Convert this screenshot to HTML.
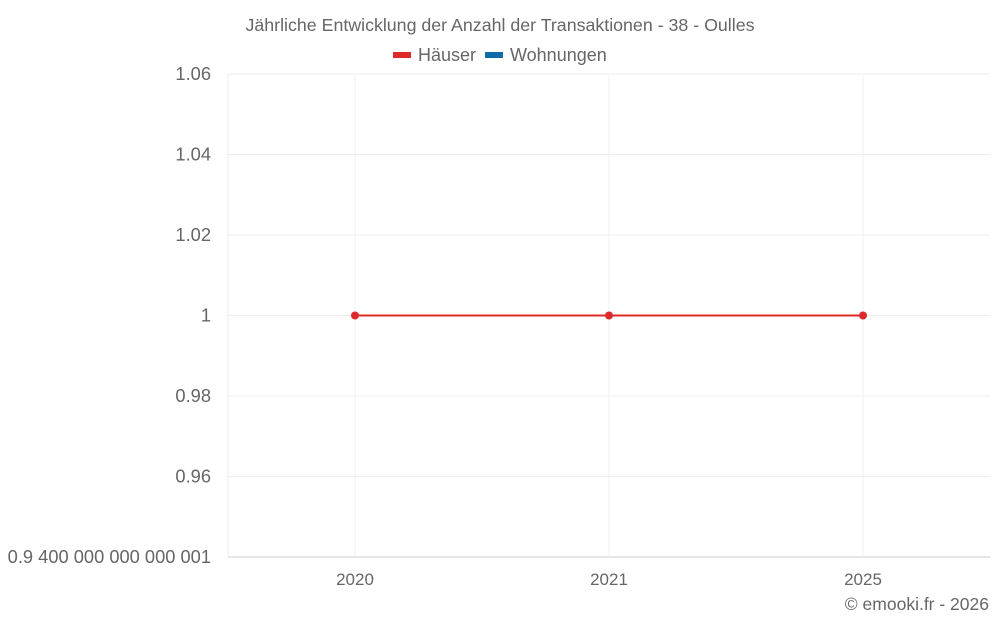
<!DOCTYPE html>
<html><head><meta charset="utf-8"><style>
body{margin:0;background:#fff;font-family:"Liberation Sans",sans-serif}
svg text{font-family:"Liberation Sans",sans-serif;fill:#666}
</style></head><body>
<svg width="1000" height="625">
<text x="500" y="31" text-anchor="middle" font-size="17.8">Jährliche Entwicklung der Anzahl der Transaktionen - 38 - Oulles</text>
<g><rect x="393" y="52" width="18" height="6" fill="#dd2a2a"/><text x="418" y="61" font-size="18">Häuser</text></g>
<g><rect x="485" y="52" width="18" height="6" fill="#0f6aa8"/><text x="510" y="61" font-size="18">Wohnungen</text></g>
<g id="grid"></g><g id="axes"></g><g id="marks"></g>
<text x="989" y="610" text-anchor="end" font-size="17.5">© emooki.fr - 2026</text>
</svg>
<script>
const categories=["2020","2021","2025"];
const haeuser=[1,1,1];
const yTicks=[0.94,0.96,0.98,1,1.02,1.04,1.06];
const yTickLabels=["0.9 400 000 000 000 001","0.96","0.98","1","1.02","1.04","1.06"];
const L=228,R=990,T=74,B=557,yMin=0.94,yMax=1.06;
const ns="http://www.w3.org/2000/svg";
const bw=(R-L)/categories.length;
const xs=i=>L+bw*(i+0.5);
const ys=v=>B-(v-yMin)/(yMax-yMin)*(B-T);
function mk(t,a,p){const e=document.createElementNS(ns,t);for(const k in a)e.setAttribute(k,a[k]);p.appendChild(e);return e;}
const g=document.getElementById('grid'),ax=document.getElementById('axes'),m=document.getElementById('marks');
yTicks.forEach((v,i)=>{
 const l=mk('line',{x1:L,x2:R,y1:ys(v),y2:ys(v),stroke:i==0?'#ccc':'#ececec'},g);
 
 
 const t=mk('text',{x:211,y:ys(v)+6,'text-anchor':'end','font-size':18.3},ax);
 t.textContent=yTickLabels[i];
 
 
});
const la=mk('line',{x1:L,x2:L,y1:T,y2:B,stroke:'#ececec'},g);


categories.forEach((c,i)=>{
 const l=mk('line',{x1:xs(i),x2:xs(i),y1:T,y2:B,stroke:'#f0f0f0'},g);
 
 
 const t=mk('text',{x:xs(i),y:585,'text-anchor':'middle','font-size':17},ax);
 t.textContent=c;
 
 
});
const pl=mk('polyline',{points:haeuser.map((v,i)=>xs(i)+','+ys(v)).join(' '),fill:'none',stroke:'#dd2a2a','stroke-width':2},m);


haeuser.forEach((v,i)=>{const c=mk('circle',{cx:xs(i),cy:ys(v),r:4,fill:'#dd2a2a'},m);
 
 });
</script>
</body></html>
